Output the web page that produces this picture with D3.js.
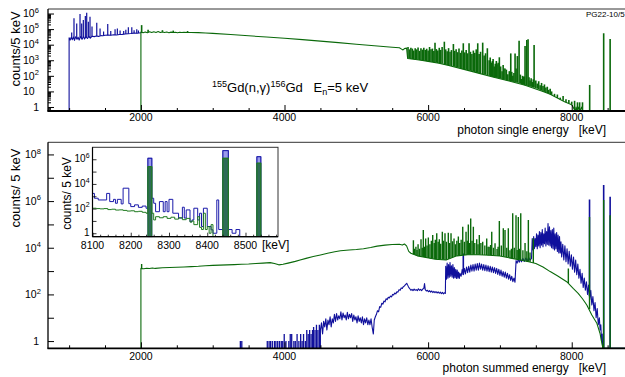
<!DOCTYPE html>
<html><head><meta charset="utf-8">
<script src="https://cdn.jsdelivr.net/npm/d3@7"></script>
<style>
html,body{margin:0;padding:0;background:#fff;overflow:hidden;}
svg{display:block;font-family:"Liberation Sans",Arial,Helvetica,sans-serif;}
text{white-space:pre;}
</style></head><body>
<svg id="c" width="625" height="377"></svg>
<script>
// ---------------- DATA ----------------
// Top panel: photon single energy spectrum  [E keV, counts/5 keV]
const topBlueCont = [[1000,2.8e4],[1015,2.0e4],[1030,3.0e4],[1045,2.1e4],[1060,3.1e4],[1075,1.9e4],[1090,3.2e4],[1110,2.2e4],[1125,3.0e4],[1140,2.0e4],[1160,3.3e4],[1180,2.2e4],[1200,3.4e4],[1215,2.3e4],[1235,3.3e4],[1255,2.5e4],[1275,3.4e4],[1295,2.6e4],[1320,3.5e4],[1350,3.3e4],[1380,3.6e4],[1410,3.4e4],[1440,3.8e4],[1470,3.7e4],[1500,4.0e4],[1540,4.1e4],[1580,4.0e4],[1620,4.3e4],[1660,4.2e4],[1700,4.5e4],[1740,4.6e4],[1780,4.8e4],[1820,5.0e4],[1860,5.2e4],[1900,5.5e4],[1950,5.4e4],[2000,5.8e4]];
const topBluePeaks = [[1036,6.0e4],[1068,4.9e5],[1106,2.3e5],[1152,9.3e5],[1175,2.3e5],[1198,3.8e5],[1226,6.9e5],[1245,1.1e6],[1268,3.0e5],[1291,6.3e5],[1319,1.45e5],[1385,2.6e5],[1431,1.1e5],[1480,7.0e4],[1538,2.1e5],[1580,7.5e4],[1640,9.8e4],[1672,1.1e5],[1710,8.0e4],[1760,7.5e4],[1790,9.0e4],[1825,1.3e5],[1873,1.3e5],[1905,8.5e4],[1942,9.8e4],[1965,8.0e4]];
const topGreenCont = [[2000,6.5e4],[2030,5.8e4],[2060,6.6e4],[2090,5.9e4],[2120,6.8e4],[2150,6.0e4],[2180,6.7e4],[2210,6.1e4],[2240,6.9e4],[2270,6.0e4],[2300,6.6e4],[2330,6.1e4],[2360,6.5e4],[2390,5.9e4],[2420,6.4e4],[2450,6.0e4],[2480,6.3e4],[2510,5.9e4],[2540,6.3e4],[2570,6.0e4],[2600,6.2e4],[2650,6.0e4],[2700,6.1e4],[2800,5.9e4],[2900,5.6e4],[3000,5.3e4],[3250,4.5e4],[3500,3.7e4],[3750,3.1e4],[4000,2.6e4],[4250,2.1e4],[4500,1.7e4],[4750,1.35e4],[5000,1.07e4],[5250,8.6e3],[5500,6.9e3],[5600,6.3e3],[5630,5.2e3],[5650,4.6e3],[5670,5.6e3],[5700,6.0e3],[5715,1.3e3],[5800,1.15e3],[5900,1.0e3],[6000,8.5e2],[6150,6.5e2],[6300,4.5e2],[6500,2.6e2],[6700,1.5e2],[6900,8.5e1],[7100,5.0e1],[7350,2.5e1],[7600,1.0e1],[7700,6.5],[7800,3.8],[7900,2.2],[8000,1.4],[8050,0],[8060,1],[8075,0],[8100,1],[8110,0],[8140,1],[8150,0],[8742,0]];
const topGreenPeaks = [[2010,1.8e5],[2100,9.0e4],[2300,8.5e4],[2450,8.0e4],[2650,7.5e4],
 [5720,7.1e3],[5740,5.0e3],[5760,6.3e3],[5780,5.6e3],[5800,4.2e3],[5820,6.0e3],[5840,5.0e3],[5860,6.6e3],[5880,4.0e3],[5900,5.8e3],[5920,4.8e3],[5940,6.3e3],[5960,4.6e3],[5980,5.5e3],[6000,4.2e3],[6020,7.1e3],[6040,5.0e3],[6060,5.6e3],[6080,4.0e3],[6096,1.35e4],[6115,5.2e3],[6135,4.2e3],[6155,6.3e3],[6175,4.6e3],[6195,7.1e3],[6226,1.55e4],[6245,5.0e3],[6265,3.8e3],[6285,6.0e3],[6305,3.5e3],[6325,4.5e3],[6352,1.1e4],[6370,4.0e3],[6390,5.0e3],[6410,3.3e3],[6430,5.6e3],[6450,3.0e3],[6470,4.2e3],[6490,1.23e4],[6510,3.2e3],[6530,4.6e3],[6550,2.8e3],[6570,1.23e4],[6590,3.5e3],[6610,2.5e3],[6630,4.2e3],[6650,3.0e3],[6670,5.0e3],[6691,1.23e4],[6710,2.5e3],[6730,3.5e3],[6760,1.35e4],[6780,2.0e3],[6800,2.8e3],[6825,5.9e3],[6850,1.0e3],[6865,1.5e3],[6880,7.1e2],[6895,9.0e2],[6905,1.2e3],[6920,4.0e2],[6935,6.0e2],[6950,9.0e2],[6960,5.6e2],[6975,7.0e2],[6992,1.55e3],[7010,4.0e2],[7030,2.0e2],[7045,5.0e2],[7055,3.0e2],[7071,3.0e2],[7090,2.5e2],[7110,1.26e2],[7130,2.0e2],[7151,2.75e3],[7165,1.8e2],[7180,1.0e2],[7195,1.5e2],[7211,2.75e3],[7225,3.0e2],[7243,1.86e3],[7267,1.8e4],[7285,1.2e2],[7300,63],[7315,1.0e2],[7330,89],[7340,90],[7350,8.3e3],[7374,2.0e4],[7392,2.2e4],[7405,80],[7420,50],[7435,70],[7450,40],[7465,60],[7476,9.5e3],[7500,50],[7520,32],[7540,45],[7560,25],[7580,35],[7600,22],[7620,28],[7640,18],[7660,20],[7680,12.6],[7700,15],[7720,10],[7760,7],[7800,6.3],[7840,4],[7880,5],[7920,3.2],[7960,2.8],[8000,2.2],[8040,2.5],[8080,2],[8110,2],[8150,2],
 [8250,26],[8445,5.4e4],[8535,2.3e4]];

// Bottom panel: photon summed energy spectrum
const botGreenCont = [[2000,1.3e3],[2040,1.25e3],[2080,1.33e3],[2120,1.28e3],[2160,1.35e3],[2200,1.3e3],[2300,1.38e3],[2400,1.42e3],[2500,1.45e3],[2600,1.5e3],[2700,1.55e3],[2800,1.6e3],[2900,1.68e3],[3000,1.75e3],[3100,1.8e3],[3200,1.85e3],[3300,1.9e3],[3400,1.95e3],[3500,2.0e3],[3600,2.1e3],[3700,2.2e3],[3800,2.3e3],[3860,2.1e3],[3920,1.85e3],[3980,1.95e3],[4050,2.2e3],[4150,2.6e3],[4217,3.0e3],[4300,3.5e3],[4400,4.2e3],[4500,4.9e3],[4600,5.8e3],[4700,6.7e3],[4780,7.4e3],[4900,8.0e3],[5000,8.4e3],[5100,9.0e3],[5200,1.02e4],[5290,1.17e4],[5400,1.3e4],[5500,1.38e4],[5600,1.4e4],[5640,1.3e4],[5670,1.45e4],[5700,1.2e4],[5730,7.0e3],[5760,5.8e3],[5850,4.5e3],[5950,3.9e3],[6100,3.2e3],[6250,3.0e3],[6400,4.5e3],[6550,5.0e3],[6700,5.0e3],[6850,4.8e3],[7000,4.4e3],[7150,3.6e3],[7280,3.0e3],[7400,2.5e3],[7500,2.1e3],[7600,1.5e3],[7700,9.5e2],[7800,6.3e2],[7930,3.5e2],[8020,1.8e2],[8090,1.1e2],[8150,6.5e1],[8210,3.5e1],[8280,1.3e1],[8350,5.8],[8395,2.1],[8420,0.8],[8435,0],[8742,0]];
const botGreenPeaks = [[2010,2.0e3],
 [5795,2.1e4],[5812,9.0e3],[5830,1.1e4],[5845,8.0e3],[5860,1.4e4],[5880,9.0e3],[5901,2.3e4],[5918,1.0e4],[5933,5.8e4],[5950,1.1e4],[5966,2.5e4],[5985,1.26e4],[6003,2.75e4],[6025,1.4e4],[6045,2.0e4],[6064,3.5e4],[6085,1.6e4],[6100,2.2e4],[6120,4.2e4],[6140,1.8e4],[6156,2.3e4],[6175,1.5e4],[6198,4.8e4],[6215,2.0e4],[6235,4.2e4],[6255,1.8e4],[6281,4.4e4],[6300,1.6e4],[6319,4.2e4],[6340,1.9e4],[6361,2.5e4],[6380,1.4e4],[6400,2.0e4],[6421,3.0e4],[6440,1.6e4],[6460,2.2e4],[6482,7.9e4],[6505,1.8e4],[6528,4.8e4],[6545,2.0e4],[6560,1.0e5],[6578,1.6e4],[6593,1.8e5],[6612,2.0e4],[6630,7.9e4],[6650,1.6e4],[6677,2.3e4],[6695,1.4e4],[6713,3.5e4],[6735,1.6e4],[6760,1.8e4],[6790,1.26e4],[6816,2.5e4],[6835,1.1e4],[6850,1.1e4],[6870,1.3e4],[6886,4.8e4],[6910,1.0e4],[6932,1.55e4],[6960,8.9e3],[6975,1.1e4],[6992,1.4e5],[7020,1.26e4],[7047,6.8e4],[7071,5.8e4],[7095,1.0e4],[7117,6.8e4],[7140,7.9e3],[7160,9.0e3],[7178,3.0e5],[7200,1.0e4],[7224,2.5e5],[7240,8.0e3],[7256,2.1e5],[7272,9.0e3],[7290,3.0e5],[7320,7.9e3],[7350,1.6e4],[7375,7.0e3],[7396,1.55e5],[7419,6.3e3],[7465,2.5e4],[7953,1.3e3],
 [8248,2.1e5],[8445,1.1e6],[8535,2.5e5]];
const botBlueBars = [[3385,1],[3405,1],[3760,1],[3785,1],[3805,1],[3830,1],[3860,1],[3880,1],[3905,1],[3930,1],[3955,1],[3975,1],[3996,2],[4020,1],[4060,1],[4080,2],[4100,2],[4130,1],[4150,1],[4175,2],[4200,1],[4225,2],[4245,1],[4265,2],[4290,1],[4310,3],[4330,2],[4350,3],[4370,2],[4390,3],[4405,4],[4425,3],[4445,5],[4465,3],[4485,5]];
const botBlueCont = [[4500,3],[4515,6],[4530,2],[4545,7],[4560,4],[4575,9],[4590,3],[4605,8],[4620,5],[4635,11],[4650,4],[4665,9],[4680,6],[4695,14],[4710,7],[4725,15],[4740,8],[4755,12],[4770,9],[4785,18],[4800,8],[4815,16],[4830,10],[4845,13],[4860,8],[4875,17],[4890,9],[4905,14],[4920,10],[4935,15],[4950,7],[4965,13],[4980,8],[4995,11],[5010,6],[5025,12],[5040,7],[5055,10],[5070,6],[5085,11],[5100,5],[5115,9],[5130,6],[5145,10],[5160,5],[5175,8],[5190,5],[5205,9],[5220,4],[5237,2],[5250,8],[5265,11],[5280,14],[5295,20],[5310,18],[5325,30],[5340,28],[5355,42],[5370,38],[5385,52],[5400,48],[5415,65],[5430,60],[5445,75],[5460,70],[5475,85],[5490,78],[5505,100],[5520,95],[5535,115],[5550,105],[5565,130],[5580,125],[5595,160],[5610,150],[5625,190],[5640,180],[5655,215],[5670,230],[5685,260],[5702,300],[5715,250],[5730,200],[5745,175],[5760,150],[5775,165],[5790,145],[5805,170],[5820,150],[5835,160],[5850,145],[5865,175],[5880,150],[5895,165],[5910,145],[5925,170],[5940,180],[5950,290],[5960,160],[5975,140],[5990,150],[6005,130],[6020,145],[6035,125],[6050,140],[6065,120],[6080,135],[6095,118],[6110,132],[6125,115],[6140,128],[6155,112],[6170,125],[6185,108],[6200,122],[6215,105],[6230,118],[6240,110],
 [6245,1.6e3],[6255,450],[6265,2.2e3],[6275,500],[6285,1.9e3],[6295,550],[6305,2.3e3],[6315,600],[6325,1.7e3],[6335,550],[6345,1.9e3],[6355,500],[6365,1.4e3],[6375,520],[6385,1.2e3],[6395,480],[6405,1.1e3],[6415,500],[6425,900],[6435,480],[6444,800],[6460,600],[6475,1.2e3],[6490,700],[6505,1.3e3],[6520,750],[6535,1.5e3],[6550,850],[6565,1.6e3],[6580,900],[6595,1.8e3],[6610,1.0e3],[6625,1.9e3],[6640,1.0e3],[6655,2.0e3],[6670,1.1e3],[6685,2.1e3],[6700,1.1e3],[6715,2.2e3],[6730,1.2e3],[6745,2.0e3],[6760,1.1e3],[6775,1.9e3],[6790,1.05e3],[6805,1.8e3],[6820,1.0e3],[6835,1.7e3],[6850,950],[6865,1.6e3],[6880,900],[6895,1.5e3],[6910,850],[6925,1.4e3],[6940,800],[6955,1.3e3],[6970,720],[6985,1.2e3],[7000,650],[7015,1.1e3],[7030,600],[7045,950],[7060,550],[7075,900],[7090,500],[7105,800],[7120,450],[7135,700],[7150,400],[7165,600],[7180,350],[7195,500],[7210,330],
 [7225,2.8e3],[7240,2.2e3],[7255,3.2e3],[7270,2.4e3],[7285,3.4e3],[7300,2.5e3],[7320,3.5e3],[7340,2.6e3],[7360,3.6e3],[7380,2.7e3],[7400,3.8e3],[7420,2.9e3],[7440,3.5e3],
 [7450,2.5e4],[7460,8e3],[7470,3.0e4],[7480,9e3],[7490,2.5e4],[7500,1.1e4],[7510,4.0e4],[7520,9e3],[7530,3.5e4],[7540,1.2e4],[7550,5.0e4],[7560,1.0e4],[7570,4.5e4],[7580,1.3e4],[7590,6.0e4],[7600,1.1e4],[7610,4.0e4],[7620,1.5e4],[7630,7.0e4],[7640,1.2e4],[7650,5.0e4],[7660,1.4e4],[7670,1.1e5],[7680,1.3e4],[7690,8.0e4],[7700,1.2e4],[7710,5.5e4],[7720,1.0e4],[7730,6.0e4],[7740,9e3],[7750,7.0e4],[7760,8e3],[7770,4.0e4],[7780,9e3],[7790,4.5e4],[7800,7e3],[7810,3.5e4],[7820,6e3],[7830,3.0e4],[7840,6e3],[7850,1.8e4],[7860,4e3],[7875,1.4e4],[7890,3e3],[7905,1.2e4],[7920,2.5e3],[7935,9e3],[7950,2e3],[7965,7e3],[7980,1.6e3],[7995,5e3],[8010,1.2e3],[8025,4e3],[8040,900],[8055,3e3],[8070,700],[8085,2e3],[8100,500],[8115,1.2e3],[8130,300],[8145,800],[8160,200],[8175,500],[8190,150],[8205,350],[8220,100],[8235,250],[8250,60],[8265,150],[8280,35],[8295,80],[8310,20],[8325,45],[8340,10],[8355,25],[8370,5],[8385,10],[8395,3],[8405,5],[8415,1],[8425,2],[8430,0],[8742,0]];
const botBluePeaks = [[6490,5.7e3],[8248,1.17e6],[8445,4.9e6],[8535,1.55e6]];

// Inset: 8100-8585 keV region, histogram bins [E lower edge, counts]
const insetBlue = [[8100,1.7e3],[8105,690],[8115,500],[8137,1.7e3],[8145,370],[8155,560],[8160,270],[8165,560],[8175,240],[8180,4.5e3],[8195,250],[8200,145],[8210,200],[8220,126],[8230,160],[8240,107],[8245,1.2e6],[8255,690],[8260,270],[8265,56],[8275,370],[8285,56],[8290,370],[8295,56],[8300,560],[8310,42],[8325,17],[8335,129],[8340,17],[8345,78],[8355,8.7],[8360,12],[8365,107],[8375,12],[8380,42],[8385,3.5],[8390,107],[8400,3.5],[8410,1.9],[8415,1],[8425,500],[8430,2],[8441,5.0e6],[8455,2],[8465,1],[8475,2],[8485,0],[8530,1.6e6],[8540,0],[8585,0]];
const insetGreen = [[8100,107],[8110,100],[8120,95],[8130,100],[8140,83],[8150,89],[8160,76],[8170,79],[8180,71],[8190,63],[8200,66],[8210,56],[8220,60],[8230,50],[8240,42],[8245,2.5e5],[8255,42],[8260,12],[8265,22],[8275,18],[8285,22],[8295,16],[8305,20],[8315,14],[8325,18],[8335,12.6],[8345,16],[8355,8],[8360,10],[8365,5],[8375,22],[8380,3],[8385,2],[8390,42],[8395,2],[8400,3.5],[8405,1],[8410,5],[8415,0],[8441,1.2e6],[8455,0],[8530,4.8e5],[8540,0],[8585,0]];

// Axis ticks & labels
const xMajorTicks = [2000,4000,6000,8000];
const xMajorLabels = ["2000","4000","6000","8000"];
const topYTicks = [1,10,1e2,1e3,1e4,1e5,1e6];
const topYLabels = ["1","10","10^2","10^3","10^4","10^5","10^6"];
const botYTicks = [1,1e2,1e4,1e6,1e8];
const botYLabels = ["1","10^2","10^4","10^6","10^8"];
const insetXTicks = [8100,8200,8300,8400,8500];
const insetXLabels = ["8100","8200","8300","8400","8500"];
const insetYTicks = [1,1e2,1e4,1e6];
const insetYLabels = ["1","10^2","10^4","10^6"];

// ---------------- DRAWING ----------------
const BLUE = "#10109c", GREEN = "#0a690a";
const IBLUE = "#1a1aaa", IGREEN = "#1f7a1f";
const svg = d3.select("#c");
svg.append("rect").attr("width",625).attr("height",377).attr("fill","#fff");
const defs = svg.append("defs");
function clip(id,x,y,w,h){defs.append("clipPath").attr("id",id).append("rect").attr("x",x).attr("y",y).attr("width",w).attr("height",h);}

const xTop = d3.scaleLinear().domain([706, 8742]).range([48, 625]);
const xBot = xTop.copy();
const yTop = d3.scaleLog().domain([Math.pow(10,-0.257), Math.pow(10,6.29)]).range([111, 9]);
const yBot = d3.scaleLog().domain([Math.pow(10,-0.31), Math.pow(10,8.52)]).range([348.3, 142.3]);
const xIn = d3.scaleLinear().domain([8100, 8585]).range([92.5, 278]);
const yIn = d3.scaleLog().domain([Math.pow(10,-0.28), Math.pow(10,6.97)]).range([236.7, 147.3]);

function yv(sc, v){ return sc(Math.max(v, sc.domain()[0])); }

function contPath(g, data, xs, ys, color, w){
  const pts = [[data[0][0], 0]].concat(data);
  g.append("path").datum(pts)
   .attr("d", d3.line().x(d=>xs(d[0])).y(d=>yv(ys,d[1])))
   .attr("fill","none").attr("stroke",color).attr("stroke-width",w).attr("stroke-linejoin","round");
}
function spikes(g, cont, peaks, xs, ys, color, w){
  const E = cont.map(d=>d[0]);
  const base = cont.length ? d3.scaleLinear().domain(E).range(cont.map(d=>d[1])) : null;
  const b = e => (!base || e < E[0] || e > E[E.length-1]) ? 0 : base(e);
  g.append("g").selectAll("line").data(peaks).join("line")
   .attr("x1",d=>xs(d[0])).attr("x2",d=>xs(d[0]))
   .attr("y1",d=>yv(ys,b(d[0]))).attr("y2",d=>yv(ys,d[1]))
   .attr("stroke",color).attr("stroke-width",w);
}
function ticksX(g, xs, y, vals, len, w){
  g.append("g").attr("transform",`translate(0,${y})`)
   .call(d3.axisBottom(xs).tickValues(vals).tickSizeInner(-len).tickSizeOuter(0).tickFormat(""))
   .call(a=>{a.select(".domain").remove(); a.selectAll("line").attr("stroke","#000").attr("stroke-width",w);});
}
function ticksY(g, ys, x, vals, len, w){
  g.append("g").attr("transform",`translate(${x},0)`)
   .call(d3.axisLeft(ys).tickValues(vals).tickSizeInner(-len).tickSizeOuter(0).tickFormat(""))
   .call(a=>{a.select(".domain").remove(); a.selectAll("line").attr("stroke","#000").attr("stroke-width",w);});
}
function yLabels(g, ys, vals, labels, startX, endX, fs, sfs, off){
  vals.forEach((v,i)=>{
    const lab = labels[i], y = ys(v) + fs*off;
    const parts = lab.split("^");
    const t = g.append("text").attr("y",y).attr("font-size",fs).attr("fill","#000");
    if(parts.length===1 && lab==="1"){ t.attr("x",endX).attr("text-anchor","end").text(lab); }
    else {
      t.attr("x",startX).attr("text-anchor","start");
      t.append("tspan").text(parts[0]);
      if(parts[1]) t.append("tspan").attr("font-size",sfs).attr("dy",-fs*0.42).text(parts[1]);
    }
  });
}
function xLabels(g, xs, vals, labels, y, fs){
  g.selectAll(null).data(vals).join("text")
   .attr("x",d=>xs(d)).attr("y",y).attr("text-anchor","middle").attr("font-size",fs).attr("fill","#000")
   .text((d,i)=>labels[i]);
}
function decadeMinors(ys){
  const [lo,hi] = ys.domain(); const out=[];
  for(let d=-1; d<=9; d++) for(let m=2;m<=9;m++){ const v=m*Math.pow(10,d); if(v>lo && v<hi) out.push(v); }
  return out;
}

// ---------- TOP PANEL ----------
clip("clipTop", 48, 8, 577, 103);
const gTop = svg.append("g");
gTop.append("line").attr("x1",48).attr("x2",625).attr("y1",9).attr("y2",9).attr("stroke","#333").attr("stroke-width",1);
const dTop = gTop.append("g").attr("clip-path","url(#clipTop)");
contPath(dTop, topBlueCont, xTop, yTop, BLUE, 1.1);
spikes(dTop, topBlueCont, topBluePeaks, xTop, yTop, BLUE, 1.2);
contPath(dTop, topGreenCont, xTop, yTop, GREEN, 1.1);
spikes(dTop, topGreenCont, topGreenPeaks, xTop, yTop, GREEN, 1.6);
gTop.append("line").attr("x1",48).attr("x2",48).attr("y1",9).attr("y2",111.5).attr("stroke","#000").attr("stroke-width",1.3);
gTop.append("line").attr("x1",47.5).attr("x2",625).attr("y1",111).attr("y2",111).attr("stroke","#000").attr("stroke-width",1.8);
ticksX(gTop, xTop, 111, d3.range(1000, 8742, 500).filter(v=>v%2000!==0), 3, 1);
ticksX(gTop, xTop, 111, xMajorTicks, 6, 1);
ticksY(gTop, yTop, 48, topYTicks, 6, 1);
ticksY(gTop, yTop, 48, decadeMinors(yTop), 3, 1);
xLabels(gTop, xTop, xMajorTicks, xMajorLabels, 121, 10.5);
yLabels(gTop, yTop, topYTicks, topYLabels, 23, 39, 10.5, 7.5, 0.36);
gTop.append("text").attr("transform","translate(20,49) rotate(-90)").attr("text-anchor","middle").attr("font-size",13).text("counts/5 keV");
gTop.append("text").attr("x",606).attr("y",134).attr("text-anchor","end").attr("font-size",12).text("photon single energy   [keV]");
gTop.append("text").attr("x",586).attr("y",17).attr("font-size",8).text("PG22-10/5");
const title = gTop.append("text").attr("x",212).attr("y",92).attr("font-size",13);
title.append("tspan").attr("font-size",9).attr("dy",-5).text("155");
title.append("tspan").attr("dy",5).text("Gd(n,γ)");
title.append("tspan").attr("font-size",9).attr("dy",-5).text("156");
title.append("tspan").attr("dy",5).text("Gd   E");
title.append("tspan").attr("font-size",9).attr("dy",3).text("n");
title.append("tspan").attr("dy",-3).text("=5 keV");

// ---------- BOTTOM PANEL ----------
clip("clipBot", 48, 141, 577, 207.5);
const gBot = svg.append("g");
gBot.append("line").attr("x1",48).attr("x2",625).attr("y1",142.3).attr("y2",142.3).attr("stroke","#333").attr("stroke-width",1);
const dBot = gBot.append("g").attr("clip-path","url(#clipBot)");
spikes(dBot, [], botBlueBars, xBot, yBot, BLUE, 1.3);
contPath(dBot, botBlueCont, xBot, yBot, BLUE, 1.1);
spikes(dBot, botBlueCont, botBluePeaks, xBot, yBot, BLUE, 1.6);
contPath(dBot, botGreenCont, xBot, yBot, GREEN, 1.1);
spikes(dBot, botGreenCont, botGreenPeaks, xBot, yBot, GREEN, 1.4);
gBot.append("line").attr("x1",48).attr("x2",48).attr("y1",142.3).attr("y2",348.8).attr("stroke","#000").attr("stroke-width",1.3);
gBot.append("line").attr("x1",47.5).attr("x2",625).attr("y1",348.3).attr("y2",348.3).attr("stroke","#000").attr("stroke-width",1.8);
ticksX(gBot, xBot, 348.3, d3.range(1000, 8742, 500).filter(v=>v%2000!==0), 3, 1);
ticksX(gBot, xBot, 348.3, xMajorTicks, 6, 1);
ticksY(gBot, yBot, 48, d3.range(0,9).map(d=>Math.pow(10,d)), 6, 1);
xLabels(gBot, xBot, xMajorTicks, xMajorLabels, 360, 10.5);
yLabels(gBot, yBot, botYTicks, botYLabels, 25, 39, 10.5, 7.5, 0.36);
gBot.append("text").attr("transform","translate(20,188) rotate(-90)").attr("text-anchor","middle").attr("font-size",13).text("counts/ 5 keV");
gBot.append("text").attr("x",606).attr("y",372).attr("text-anchor","end").attr("font-size",12).text("photon summed energy   [keV]");

// ---------- INSET ----------
clip("clipIn", 92.5, 147.3, 185.5, 89.9);
const gIn = svg.append("g");
gIn.append("rect").attr("x",92.5).attr("y",147.3).attr("width",185.5).attr("height",89.4).attr("fill","#fff").attr("stroke","#333").attr("stroke-width",1);
const dIn = gIn.append("g").attr("clip-path","url(#clipIn)");
const stepLine = d3.line().curve(d3.curveStepAfter).x(d=>xIn(d[0])).y(d=>yv(yIn,d[1]));
function peakRects(g, data, fill, stroke){
  const bins = data.slice(0,-1).map((d,i)=>({e0:d[0], e1:data[i+1][0], c:d[1]})).filter(b=>b.c>=1e4);
  g.append("g").selectAll("rect").data(bins).join("rect")
   .attr("x",b=>xIn(b.e0)).attr("width",b=>xIn(b.e1)-xIn(b.e0))
   .attr("y",b=>yIn(b.c)).attr("height",b=>236.7-yIn(b.c))
   .attr("fill",fill).attr("stroke",stroke).attr("stroke-width",1);
}
dIn.append("path").datum(insetBlue).attr("d",stepLine).attr("fill","none").attr("stroke",IBLUE).attr("stroke-width",1);
peakRects(dIn, insetBlue, "#9b9bec", IBLUE);
dIn.append("path").datum(insetGreen).attr("d",stepLine).attr("fill","none").attr("stroke",IGREEN).attr("stroke-width",1);
peakRects(dIn, insetGreen, "#2f6b58", IGREEN);
gIn.append("line").attr("x1",92.5).attr("x2",278).attr("y1",236.7).attr("y2",236.7).attr("stroke","#000").attr("stroke-width",1.3);
gIn.append("line").attr("x1",92.5).attr("x2",92.5).attr("y1",147.3).attr("y2",236.7).attr("stroke","#000").attr("stroke-width",1.2);
ticksX(gIn, xIn, 236.7, d3.range(8120, 8585, 20).filter(v=>v%100!==0), 2, 0.8);
ticksX(gIn, xIn, 236.7, insetXTicks, 4, 0.8);
ticksY(gIn, yIn, 92.5, d3.range(0,7).map(d=>Math.pow(10,d)), 4, 0.8);
xLabels(gIn, xIn, insetXTicks, insetXLabels, 248.8, 10.5);
yLabels(gIn, yIn, insetYTicks, insetYLabels, 74.5, 89.5, 10, 7, 0.3);
gIn.append("text").attr("transform","translate(71,193.5) rotate(-90)").attr("text-anchor","middle").attr("font-size",12).text("counts/ 5 keV");
gIn.append("text").attr("x",262).attr("y",248.5).attr("font-size",12).text("[keV]");
</script>
</body></html>
